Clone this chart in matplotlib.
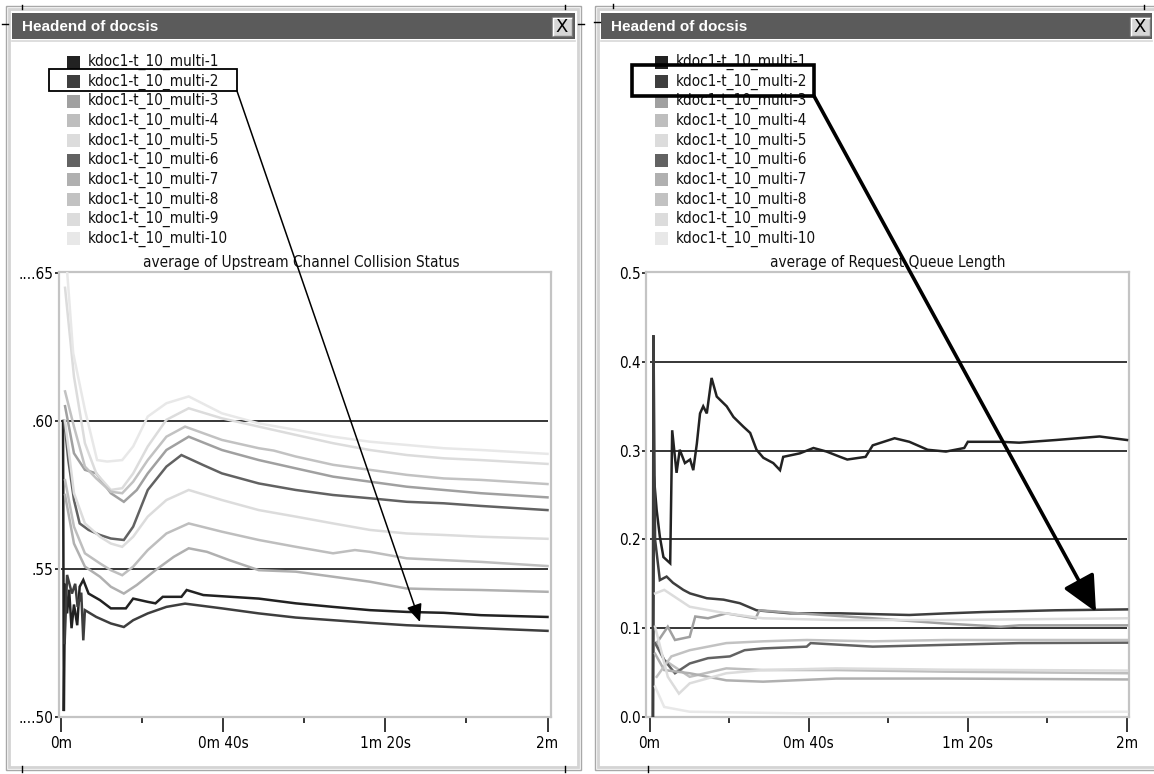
import matplotlib
matplotlib.use("Agg")
import matplotlib.pyplot as plt
import matplotlib.font_manager as fm
from matplotlib.patches import Rectangle, FancyArrowPatch, ArrowStyle

# ---------------- data ----------------
series_names = ["kdoc1-t_10_multi-1", "kdoc1-t_10_multi-2", "kdoc1-t_10_multi-3",
                "kdoc1-t_10_multi-4", "kdoc1-t_10_multi-5", "kdoc1-t_10_multi-6",
                "kdoc1-t_10_multi-7", "kdoc1-t_10_multi-8", "kdoc1-t_10_multi-9",
                "kdoc1-t_10_multi-10"]
series_colors = ["#222222", "#3e3e3e", "#a0a0a0", "#bebebe", "#dcdcdc",
                 "#626262", "#b0b0b0", "#c2c2c2", "#dcdcdc", "#e8e8e8"]

window_title = "Headend of docsis"
left_title = "average of Upstream Channel Collision Status"
right_title = "average of Request Queue Length"

x_ticks = [0, 40, 80, 120]
x_minor = [20, 60, 100]
x_labels = ["0m", "0m 40s", "1m 20s", "2m"]
left_yticks = [0.50, 0.55, 0.60, 0.65]
left_ylabels = ["....50", ".55", ".60", "....65"]
left_grid = [0.55, 0.60]
right_yticks = [0.0, 0.1, 0.2, 0.3, 0.4, 0.5]
right_ylabels = ["0.0", "0.1", "0.2", "0.3", "0.4", "0.5"]
right_grid = [0.1, 0.2, 0.3, 0.4]

# Upstream Channel Collision Status (left) : time in s, value
ucs_t_1 = [0.5, 0.7, 1.0, 1.5, 2.0, 2.6, 3.2, 4.0, 4.6, 5.5, 6.8, 9.6, 12.3, 16.0, 17.8, 21.4, 23.3, 25.1, 29.7, 31.0, 35.1, 48.8, 57.9, 67.1, 76.2, 85.3, 94.4, 103.6, 120]
ucs_v_1 = [0.600, 0.502, 0.545, 0.535, 0.543, 0.530, 0.538, 0.531, 0.5440, 0.5463, 0.5417, 0.5395, 0.5367, 0.5367, 0.5400, 0.5389, 0.5384, 0.5406, 0.5406, 0.5429, 0.5412, 0.5400, 0.5384, 0.5372, 0.5361, 0.5355, 0.5352, 0.5344, 0.5338]
ucs_t_2 = [0.9, 1.5, 2.7, 3.5, 4.1, 5.0, 5.5, 5.9, 8.7, 12.3, 15.5, 17.8, 21.4, 26.0, 30.6, 39.7, 48.8, 57.9, 67.1, 76.2, 85.3, 94.4, 103.6, 120]
ucs_v_2 = [0.525, 0.548, 0.5417, 0.545, 0.5372, 0.542, 0.5259, 0.5361, 0.5338, 0.5316, 0.5304, 0.5327, 0.5350, 0.5372, 0.5383, 0.5367, 0.5350, 0.5336, 0.5327, 0.5318, 0.5310, 0.5305, 0.5300, 0.5291]
ucs_t_3 = [1.0, 3.2, 5.9, 8.7, 12.3, 15.5, 18.7, 21.4, 26.0, 31.5, 39.7, 48.8, 57.9, 67.1, 76.2, 85.3, 94.4, 103.6, 120]
ucs_v_3 = [0.605, 0.5891, 0.5835, 0.5823, 0.5756, 0.5727, 0.5767, 0.5823, 0.5902, 0.5947, 0.5902, 0.5868, 0.5840, 0.5812, 0.5795, 0.5778, 0.5767, 0.5756, 0.5742]
ucs_t_4 = [1.0, 3.2, 5.9, 9.6, 12.3, 15.1, 17.8, 21.4, 26.0, 31.5, 39.7, 48.8, 57.9, 67.1, 72.5, 76.2, 85.3, 94.4, 103.6, 120]
ucs_v_4 = [0.580, 0.5643, 0.5553, 0.5519, 0.5496, 0.5479, 0.5508, 0.5564, 0.5620, 0.5654, 0.5626, 0.5598, 0.5575, 0.5553, 0.5564, 0.5558, 0.5536, 0.5530, 0.5524, 0.5510]
ucs_t_5 = [1.0, 3.2, 5.9, 8.7, 12.3, 15.1, 17.8, 21.4, 26.0, 31.5, 39.7, 48.8, 57.9, 67.1, 76.2, 85.3, 94.4, 103.6, 120]
ucs_v_5 = [0.645, 0.615, 0.5925, 0.5823, 0.5767, 0.5773, 0.5823, 0.5914, 0.6004, 0.6043, 0.6009, 0.5981, 0.5953, 0.5925, 0.5902, 0.5885, 0.5874, 0.5868, 0.5855]
ucs_t_6 = [0.8, 1.8, 3.2, 4.6, 6.8, 9.6, 12.3, 15.5, 17.8, 21.4, 26.0, 29.7, 35.1, 39.7, 48.8, 57.9, 67.1, 76.2, 85.3, 94.4, 103.6, 120]
ucs_v_6 = [0.600, 0.5868, 0.5733, 0.5654, 0.5632, 0.5615, 0.5603, 0.5598, 0.5643, 0.5767, 0.5846, 0.5885, 0.5851, 0.5823, 0.5789, 0.5767, 0.5750, 0.5739, 0.5727, 0.5722, 0.5713, 0.5699]
ucs_t_7 = [1.0, 3.2, 5.9, 9.6, 12.3, 15.5, 18.7, 23.3, 27.8, 31.5, 36.0, 41.5, 48.8, 57.9, 67.1, 76.2, 85.3, 94.4, 103.6, 120]
ucs_v_7 = [0.575, 0.5586, 0.5508, 0.5474, 0.5440, 0.5417, 0.5446, 0.5496, 0.5541, 0.5570, 0.5558, 0.5530, 0.5496, 0.5491, 0.5474, 0.5457, 0.5434, 0.5431, 0.5429, 0.5423]
ucs_t_8 = [1.0, 3.2, 5.9, 8.7, 12.3, 15.1, 17.8, 21.4, 26.0, 30.6, 39.7, 48.8, 52.5, 57.9, 67.1, 76.2, 85.3, 94.4, 103.6, 120]
ucs_v_8 = [0.610, 0.5981, 0.5846, 0.5806, 0.5761, 0.5756, 0.5795, 0.5868, 0.5947, 0.5981, 0.5936, 0.5908, 0.5900, 0.5880, 0.5852, 0.5835, 0.5818, 0.5806, 0.5801, 0.5787]
ucs_t_9 = [1.0, 3.2, 5.9, 9.6, 12.3, 15.1, 17.8, 21.4, 26.0, 31.5, 39.7, 48.8, 57.9, 67.1, 76.2, 85.3, 94.4, 103.6, 120]
ucs_v_9 = [0.600, 0.5756, 0.5654, 0.5609, 0.5586, 0.5575, 0.5609, 0.5677, 0.5733, 0.5767, 0.5733, 0.5699, 0.5677, 0.5654, 0.5632, 0.5620, 0.5615, 0.5609, 0.5602]
ucs_t_10 = [1.0, 3.0, 5.9, 8.9, 11.4, 15.1, 17.8, 21.4, 26.0, 31.5, 39.7, 48.8, 57.9, 67.1, 76.2, 85.3, 94.4, 103.6, 120]
ucs_v_10 = [0.660, 0.6230, 0.6038, 0.5868, 0.5863, 0.5868, 0.5914, 0.6015, 0.6060, 0.6083, 0.6026, 0.5992, 0.5970, 0.5947, 0.5930, 0.5919, 0.5908, 0.5902, 0.5889]

# Request Queue Length (right)
rql_t_1 = [0.9, 1.1, 1.8, 2.6, 3.5, 5.2, 5.7, 6.8, 7.6, 8.9, 10.2, 11.0, 11.9, 12.7, 13.5, 14.4, 15.6, 16.9, 19.4, 21.1, 23.6, 25.3, 26.9, 28.6, 31.1, 32.8, 33.6, 37.8, 41.2, 44.5, 47.9, 49.7, 54.3, 56.1, 61.6, 65.3, 69.9, 74.5, 79.1, 80.0, 88.3, 92.9, 102.1, 113.1, 120]
rql_v_1 = [0.0, 0.271, 0.233, 0.203, 0.180, 0.173, 0.323, 0.275, 0.301, 0.286, 0.290, 0.278, 0.308, 0.342, 0.350, 0.342, 0.382, 0.361, 0.350, 0.338, 0.327, 0.320, 0.301, 0.292, 0.286, 0.278, 0.293, 0.297, 0.303, 0.299, 0.293, 0.290, 0.293, 0.306, 0.314, 0.310, 0.301, 0.299, 0.303, 0.310, 0.310, 0.309, 0.312, 0.316, 0.312]
rql_t_2 = [0.8, 1.0, 1.4, 2.6, 4.3, 5.9, 8.5, 10.2, 14.4, 18.6, 22.7, 26.9, 35.3, 47.9, 65.3, 74.5, 83.7, 102.0, 120]
rql_v_2 = [0.0, 0.430, 0.200, 0.154, 0.158, 0.151, 0.143, 0.139, 0.1336, 0.132, 0.128, 0.120, 0.1166, 0.1166, 0.1147, 0.1165, 0.118, 0.120, 0.121]
rql_t_3 = [1.8, 4.6, 6.4, 10.1, 11.5, 14.7, 19.3, 26.7, 27.6, 37.7, 56.1, 74.5, 88.3, 92.9, 120]
rql_v_3 = [0.083, 0.1015, 0.0865, 0.090, 0.113, 0.111, 0.1165, 0.111, 0.120, 0.1165, 0.111, 0.105, 0.1015, 0.103, 0.103]
rql_t_4 = [1.8, 3.7, 10.1, 19.3, 28.5, 46.9, 74.5, 120]
rql_v_4 = [0.083, 0.064, 0.045, 0.0545, 0.0526, 0.0526, 0.0508, 0.049]
rql_t_5 = [1.4, 3.7, 6.4, 10.1, 19.3, 28.5, 46.9, 74.5, 120]
rql_v_5 = [0.139, 0.143, 0.135, 0.124, 0.1165, 0.111, 0.109, 0.109, 0.111]
rql_t_6 = [1.4, 3.7, 6.4, 10.1, 14.7, 20.2, 23.9, 28.5, 39.5, 40.5, 56.1, 74.5, 92.9, 120]
rql_v_6 = [0.083, 0.064, 0.049, 0.060, 0.066, 0.068, 0.075, 0.077, 0.079, 0.083, 0.079, 0.081, 0.083, 0.0835]
rql_t_7 = [1.4, 3.7, 10.1, 19.3, 28.5, 46.9, 74.5, 120]
rql_v_7 = [0.071, 0.0526, 0.049, 0.041, 0.0395, 0.043, 0.043, 0.042]
rql_t_8 = [1.8, 5.5, 10.1, 19.3, 28.5, 39.5, 56.1, 74.5, 120]
rql_v_8 = [0.045, 0.068, 0.075, 0.083, 0.085, 0.0865, 0.085, 0.0865, 0.0865]
rql_t_9 = [1.4, 4.6, 7.4, 10.1, 19.3, 28.5, 46.9, 74.5, 120]
rql_v_9 = [0.1015, 0.045, 0.026, 0.0376, 0.049, 0.0526, 0.0545, 0.053, 0.052]
rql_t_10 = [1.4, 3.7, 10.1, 37.7, 74.5, 120]
rql_v_10 = [0.034, 0.011, 0.0056, 0.0038, 0.0045, 0.0056]

ucs_series = [(ucs_t_1, ucs_v_1), (ucs_t_2, ucs_v_2), (ucs_t_3, ucs_v_3), (ucs_t_4, ucs_v_4),
              (ucs_t_5, ucs_v_5), (ucs_t_6, ucs_v_6), (ucs_t_7, ucs_v_7), (ucs_t_8, ucs_v_8),
              (ucs_t_9, ucs_v_9), (ucs_t_10, ucs_v_10)]
rql_series = [(rql_t_1, rql_v_1), (rql_t_2, rql_v_2), (rql_t_3, rql_v_3), (rql_t_4, rql_v_4),
              (rql_t_5, rql_v_5), (rql_t_6, rql_v_6), (rql_t_7, rql_v_7), (rql_t_8, rql_v_8),
              (rql_t_9, rql_v_9), (rql_t_10, rql_v_10)]

# ---------------- fonts ----------------
avail = {f.name for f in fm.fontManager.ttflist}
if "Liberation Sans Narrow" in avail:
    NARROW = dict(family="Liberation Sans Narrow")
else:
    NARROW = dict(family="DejaVu Sans", stretch="condensed")
BOLD = dict(family="Liberation Sans", weight="bold")

W, H = 1154, 774
fig = plt.figure(figsize=(W / 100, H / 100), dpi=100)
fig.patch.set_facecolor("white")

bg = fig.add_axes([0, 0, 1, 1], zorder=0)
bg.set_xlim(0, W)
bg.set_ylim(H, 0)
bg.axis("off")

fg = fig.add_axes([0, 0, 1, 1], zorder=10)
fg.set_xlim(0, W)
fg.set_ylim(H, 0)
fg.axis("off")
fg.patch.set_alpha(0)


def px_axes(x0, y0, x1, y1, z=2):
    return fig.add_axes([x0 / W, 1 - y1 / H, (x1 - x0) / W, (y1 - y0) / H], zorder=z)


def window(x0, x1, btn_x0):
    bg.add_patch(Rectangle((x0 - 6, 6), x1 - x0 + 12, 764, fill=False, ec="#a8a8a8", lw=1.0))
    bg.add_patch(Rectangle((x0 - 3, 9), x1 - x0 + 6, 758, fill=False, ec="#d4d4d4", lw=2.0))
    bg.add_patch(Rectangle((x0, 13), x1 - x0, 26, fc="#5b5b5b", ec="none"))
    bg.plot([x0, x1], [41, 41], color="#d8d8d8", lw=1.2)
    bg.text(x0 + 10, 27, window_title, color="white", fontsize=11, va="center", ha="left", **BOLD)
    # close button
    bg.add_patch(Rectangle((btn_x0, 17), 20, 19, fc="#d6d6d6", ec="#7a7a7a", lw=1.0))
    bg.plot([btn_x0 + 1, btn_x0 + 1, btn_x0 + 19], [35, 18, 18], color="white", lw=1.0)
    bg.text(btn_x0 + 10, 27, "X", color="black", fontsize=13, ha="center", va="center",
            family="DejaVu Sans")


window(12, 575, 552)
window(601, 1152, 1130)

# little black marks of the screen capture
for (xa, ya, xb, yb) in [(22, 5, 22, 9), (565, 5, 565, 9), (2, 24, 8, 24), (578, 24, 584, 24),
                         (613, 4, 613, 8), (594, 22, 600, 22), (1144, 5, 1144, 9),
                         (22, 766, 22, 772), (565, 766, 565, 772), (648, 766, 648, 772)]:
    bg.plot([xa, xb], [ya, yb], color="black", lw=1.0)


def legend(sw_x, tx_x):
    for i, (name, col) in enumerate(zip(series_names, series_colors)):
        yc = 62 + 19.65 * i
        bg.add_patch(Rectangle((sw_x, yc - 6.5), 13, 13, fc=col, ec="none"))
        bg.text(tx_x, yc, name, fontsize=11, va="center", ha="left", color="#111111", **NARROW)


legend(67, 88)
legend(655, 676)


def style_axes(ax, yt, yl, grid):
    ax.set_facecolor("white")
    for s in ax.spines.values():
        s.set_color("#c4c4c4")
        s.set_linewidth(1.6)
    ax.hlines(grid, 0, 120, colors="black", lw=1.1, zorder=1)
    ax.set_xticks(x_ticks)
    ax.set_xticklabels(x_labels)
    ax.set_xticks(x_minor, minor=True)
    ax.set_yticks(yt)
    ax.set_yticklabels(yl)
    ax.tick_params(axis="x", which="major", direction="out", length=11, width=1.1,
                   color="black", pad=3, labelsize=11)
    ax.tick_params(axis="x", which="minor", direction="out", length=4.5, width=1.1, color="black")
    ax.tick_params(axis="y", direction="out", length=3, width=1.1, color="black", pad=1,
                   labelsize=11)
    for lab in ax.get_xticklabels() + ax.get_yticklabels():
        lab.set_fontproperties(fm.FontProperties(size=11, **NARROW))


# left chart
axL = px_axes(59, 272, 551, 717)
sx = 120 / 486.5
axL.set_xlim(-2 * sx, 120 + 3.5 * sx)
axL.set_ylim(0.50, 0.65 + 0.15 / 444)
style_axes(axL, left_yticks, left_ylabels, left_grid)
for (t, v), col in zip(ucs_series, series_colors):
    axL.plot(t, v, color=col, lw=1.8, zorder=3, solid_joinstyle="miter")
bg.text(301, 262, left_title, fontsize=11, ha="center", va="center", color="#111111", **NARROW)

# right chart
axR = px_axes(646, 272, 1129, 717)
sx = 120 / 477.5
axR.set_xlim(-3.5 * sx, 120 + 2 * sx)
sy = 0.5 / 443.4
axR.set_ylim(-0.3 * sy, 0.5 + 1.3 * sy)
style_axes(axR, right_yticks, right_ylabels, right_grid)
for (t, v), col in zip(rql_series, series_colors):
    axR.plot(t, v, color=col, lw=1.8, zorder=3, solid_joinstyle="miter")
bg.text(888, 262, right_title, fontsize=11, ha="center", va="center", color="#111111", **NARROW)

# highlight boxes and arrows
fg.add_patch(Rectangle((49, 69), 188, 22, fill=False, ec="black", lw=1.3))
fg.add_patch(FancyArrowPatch((237, 91), (420, 622), shrinkA=0, shrinkB=0,
                             arrowstyle=ArrowStyle("-|>", head_length=10.8, head_width=4.7),
                             mutation_scale=1, color="black", lw=1.1))
fg.add_patch(Rectangle((632, 65), 182, 31, fill=False, ec="black", lw=2.6))
fg.add_patch(FancyArrowPatch((814, 96), (1096, 612), shrinkA=0, shrinkB=0,
                             arrowstyle=ArrowStyle("-|>", head_length=22, head_width=10.5),
                             mutation_scale=1, color="black", lw=2.6))

fig.savefig("out.png", dpi=100, facecolor="white")
